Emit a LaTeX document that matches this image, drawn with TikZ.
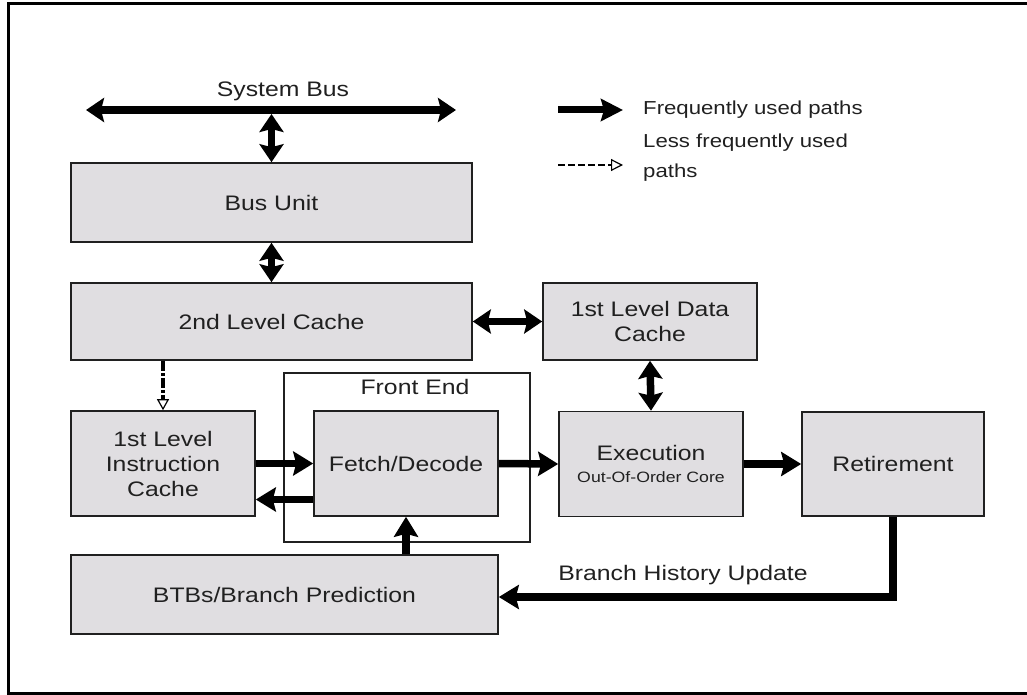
\documentclass[tikz,border=0pt]{standalone}
\usepackage{fontspec}
\setmainfont{Liberation Sans}[FakeStretch=1.18]
\usetikzlibrary{arrows.meta}
\definecolor{boxfill}{RGB}{224,222,225}
\definecolor{ink}{RGB}{32,32,32}
\begin{document}
\begin{tikzpicture}[x=1pt,y=-1pt,
  blk/.style={draw=ink, line width=1.6pt, fill=boxfill, inner sep=0pt,
    align=center, text=ink, font=\fontsize{21}{25}\selectfont},
  lbl/.style={text=ink, inner sep=0pt, font=\fontsize{21}{25}\selectfont},
  leg/.style={text=ink, inner sep=0pt, anchor=west, align=left,
    font=\fontsize{18.8}{30}\selectfont},
  fat/.style={line width=7.5pt, draw=black,
    arrows={-Stealth[length=20pt,width=24pt,inset=3pt]}},
  fatboth/.style={line width=7.5pt, draw=black,
    arrows={Stealth[length=18pt,width=24pt,inset=3pt]-Stealth[length=18pt,width=24pt,inset=3pt]}},
  rare/.style={line width=4pt, draw=black, dash pattern=on 10pt off 2pt on 3pt off 2pt,
    arrows={-Triangle[open,length=11pt,width=12pt,line width=1.2pt]}},
  rarethin/.style={line width=1.5pt, draw=black, dash pattern=on 7pt off 3pt,
    arrows={-Triangle[open,length=12pt,width=12pt,line width=1.2pt]}},
]
\useasboundingbox (0,0) rectangle (1027,695);

% outer frame, open on the right
\draw[line width=3pt, draw=black] (1030,4) -- (8.5,4) -- (8.5,693) -- (1030,693);

% front end group
\node[draw=ink, line width=1.1pt, minimum width=246pt, minimum height=169pt,
  inner sep=0pt] (fe) at (407,457.5) {};
\node[lbl] (fetitle) at (415,387) {Front End};

% functional blocks
\node[blk, minimum width=401pt, minimum height=79pt] (bus) at (271.5,202.5) {Bus Unit};
\node[blk, minimum width=401pt, minimum height=77pt] (l2) at (271.5,321.5) {2nd Level Cache};
\node[blk, minimum width=214pt, minimum height=77pt] (l1d) at (650,321.5) {1st Level Data\\Cache};
\node[blk, minimum width=184pt, minimum height=105pt] (l1i) at (163,463.5) {1st Level\\Instruction\\Cache};
\node[blk, minimum width=184pt, minimum height=105pt] (fetch) at (406,463.5) {Fetch/Decode};
\node[blk, minimum width=184pt, minimum height=105pt] (exec) at (651,464)
  {Execution\\[-3pt]{\fontsize{15}{17}\selectfont Out-Of-Order Core}};
\node[blk, minimum width=182pt, minimum height=104pt] (ret) at (893,464) {Retirement};
\node[blk, minimum width=427pt, minimum height=79pt] (btb) at (284.5,594.5) {BTBs/Branch Prediction};

% system bus
\coordinate (busL) at (86,110);
\coordinate (busR) at (456,110);
\coordinate (busJ) at (271.5,114);
\draw[fatboth] (busL) -- (busR);
\node[lbl] (bustitle) at (283,91) {System Bus};
\draw[fatboth] (busJ) -- (bus.north);

% connectors
\draw[fatboth] (bus.south) -- (l2.north);
\draw[fatboth] (l2.east) -- (l1d.west);
\draw[fatboth] (l1d.south) -- (exec.north);
\draw[rare] (l2.south -| l1i.north) -- (l1i.north);
\draw[fat] (l1i.east) -- (fetch.west);
\draw[fat] ([yshift=-36pt]fetch.west) -- ([yshift=-36pt]l1i.east);
\draw[fat] (fetch.east) -- (exec.west);
\draw[fat] (exec.east) -- (ret.west);
\draw[fat] (btb.north -| fetch.south) -- (fetch.south);
\draw[fat, line join=miter] (ret.south) |- ([yshift=-2.5pt]btb.east);
\node[lbl] (bhu) at (683,575) {Branch History Update};

% legend
\coordinate (legAs) at (558,110);
\coordinate (legAe) at (623,110);
\coordinate (legBs) at (558,165);
\coordinate (legBe) at (623,165);
\draw[fat, arrows={-Stealth[length=22pt,width=22pt,inset=3pt]}, line width=7pt] (legAs) -- (legAe);
\draw[rarethin] (legBs) -- (legBe);
\node[leg] (legA) at (643,110) {Frequently used paths};
\node[leg] (legB) at (643,158) {Less frequently used\\paths};
\end{tikzpicture}
\end{document}
